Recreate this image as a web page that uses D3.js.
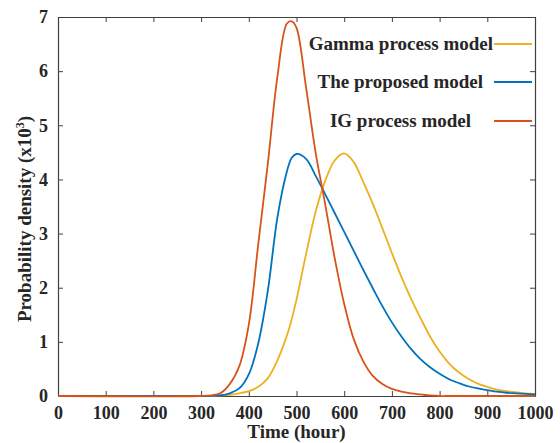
<!DOCTYPE html>
<html>
  <head>
    <meta charset="utf-8">
    <style type="text/css">
      body { margin: 0; background: #fff; }
      text { font-family: "Liberation Serif", "Times New Roman", serif; font-weight: bold; fill: #262626; }
    </style>
  </head>
  <body>
    <svg id="chart" width="560" height="443"></svg>
    <script src="https://cdn.jsdelivr.net/npm/d3@7"></script>
    <script>
      // time grid (hours) shared by the three curves
      const hours = [0, 300, 320, 340, 360, 380, 400, 420, 440, 460, 480, 490, 500, 520, 540, 560, 580, 600,
        620, 640, 660, 680, 700, 720, 740, 760, 780, 800, 820, 840, 860, 880, 900, 920, 940, 960, 980, 1000];

      // probability density (x10^3)
      const gammaModel = [0, 0, 0, 0.01, 0.02, 0.05, 0.09, 0.17, 0.33, 0.66, 1.12, 1.42, 1.78, 2.62, 3.4, 3.97, 4.35, 4.48,
        4.32, 3.95, 3.55, 3.1, 2.64, 2.2, 1.8, 1.44, 1.1, 0.82, 0.6, 0.44, 0.32, 0.23, 0.17, 0.12, 0.09, 0.07, 0.05, 0.04];
      const proposedModel = [0, 0, 0, 0.01, 0.05, 0.14, 0.4, 0.98, 1.95, 3.3, 4.15, 4.4, 4.47, 4.38, 4.07, 3.73, 3.38, 3.03,
        2.68, 2.33, 1.99, 1.66, 1.36, 1.1, 0.87, 0.68, 0.53, 0.41, 0.31, 0.24, 0.18, 0.14, 0.11, 0.08, 0.06, 0.05, 0.04, 0.03];
      const igModel = [0, 0, 0.01, 0.05, 0.22, 0.55, 1.32, 2.82, 4.3, 5.9, 6.88, 6.92, 6.8, 5.7, 4.5, 3.55, 2.55, 1.7,
        1.05, 0.64, 0.37, 0.22, 0.13, 0.08, 0.05, 0.03, 0.01, 0, 0, 0, 0, 0, 0, 0, 0, 0, 0, 0];

      const xTicks = [0, 100, 200, 300, 400, 500, 600, 700, 800, 900, 1000];
      const yTicks = [0, 1, 2, 3, 4, 5, 6, 7];

      const series = [
        {name: "Gamma process model", values: gammaModel, color: "#EDB120", labelEnd: 493},
        {name: "The proposed model", values: proposedModel, color: "#0072BD", labelEnd: 483},
        {name: "IG process model", values: igModel, color: "#D95319", labelEnd: 471}
      ];

      const margin = {top: 17, right: 25, bottom: 47, left: 58};
      const width = 560 - margin.left - margin.right;
      const height = 443 - margin.top - margin.bottom;

      const svg = d3.select("#chart");
      const g = svg.append("g").attr("transform", `translate(${margin.left},${margin.top})`);

      const x = d3.scaleLinear().domain([0, 1000]).range([0, width]);
      const y = d3.scaleLinear().domain([0, 7]).range([height, 0]);

      // box axes, ticks pointing inwards
      const styleAxis = (sel, hideText) => {
        sel.attr("font-family", null).attr("font-size", null);
        sel.selectAll(".tick line").attr("stroke", "#404040");
        sel.select(".domain").attr("stroke", "#404040").attr("stroke-width", 1.2);
        sel.selectAll("text")
          .attr("fill", "#262626")
          .style("font-family", "'Liberation Serif', serif")
          .style("font-size", "18px");
        if (hideText) sel.selectAll("text").remove();
      };

      g.append("g").attr("transform", `translate(0,${height})`)
        .call(d3.axisBottom(x).tickValues(xTicks).tickFormat(d3.format("d")).tickSizeInner(-5).tickSizeOuter(0).tickPadding(10))
        .call(styleAxis, false);
      g.append("g")
        .call(d3.axisTop(x).tickValues(xTicks).tickSizeInner(-5).tickSizeOuter(0))
        .call(styleAxis, true);
      g.append("g")
        .call(d3.axisLeft(y).tickValues(yTicks).tickFormat(d3.format("d")).tickSizeInner(-5).tickSizeOuter(0).tickPadding(10))
        .call(styleAxis, false);
      g.append("g").attr("transform", `translate(${width},0)`)
        .call(d3.axisRight(y).tickValues(yTicks).tickSizeInner(-5).tickSizeOuter(0))
        .call(styleAxis, true);

      const line = d3.line()
        .x((d, i) => x(hours[i]))
        .y((d) => y(d))
        .curve(d3.curveCatmullRom.alpha(0.5));

      g.selectAll("path.series").data(series).enter().append("path")
        .attr("class", "series")
        .attr("d", (d) => line(d.values))
        .attr("fill", "none")
        .attr("stroke", (d) => d.color)
        .attr("stroke-width", 1.8);

      // legend
      const legendRows = [44, 82, 121];
      const legend = g.selectAll("g.legend").data(series).enter().append("g")
        .attr("class", "legend")
        .attr("transform", (d, i) => `translate(0,${legendRows[i] - margin.top})`);
      legend.append("text")
        .attr("x", (d) => d.labelEnd - margin.left)
        .attr("y", 6)
        .attr("text-anchor", "end")
        .style("font-size", "19px")
        .text((d) => d.name);
      legend.append("line")
        .attr("x1", 494 - margin.left)
        .attr("x2", 532 - margin.left)
        .attr("stroke", (d) => d.color)
        .attr("stroke-width", 1.8);

      // axis titles
      svg.append("text")
        .attr("x", margin.left + width / 2)
        .attr("y", 438)
        .attr("text-anchor", "middle")
        .style("font-size", "19px")
        .text("Time (hour)");

      const yTitle = svg.append("text")
        .attr("transform", `translate(31,219) rotate(-90)`)
        .attr("text-anchor", "middle")
        .style("font-size", "19px");
      yTitle.append("tspan").text("Probability density (x10");
      yTitle.append("tspan").attr("dy", -7).style("font-size", "12px").text("3");
      yTitle.append("tspan").attr("dy", 7).text(")");
    </script>
  </body>
</html>
